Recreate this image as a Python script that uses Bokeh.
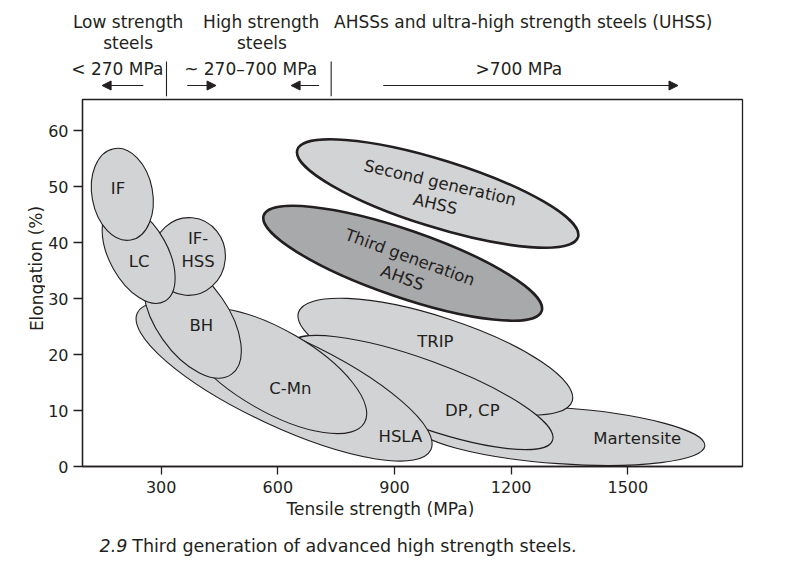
import numpy as np
from bokeh.plotting import figure
from bokeh.layouts import column, row
from bokeh.models import Range1d, FixedTicker, Arrow, NormalHead, ColumnDataSource
from bokeh.embed import file_html
from bokeh.resources import INLINE
from bokeh.core.properties import value

FONT = "DejaVu Sans"
INK = "#231f20"
FILL = "#d2d3d5"
FILL_DARK = "#a8a9ab"

# ---------------- data ----------------
# steel families, listed in drawing order (bottom to top)
steel_names = ["Martensite", "TRIP", "DP, CP", "HSLA", "C-Mn", "BH", "IF-HSS", "LC", "IF"]
steel_ts = [1326, 1005, 968, 616, 591, 380, 371, 242, 200]          # tensile strength centre (MPa)
steel_el = [5.5, 19.6, 13.2, 15.2, 17.1, 26.4, 37.5, 37.9, 48.6]    # elongation centre (%)
steel_ts_span = [746, 740, 720, 833, 535, 350, 188, 150, 156]       # spread along strength (MPa)
steel_el_span = [10.0, 14.3, 11.8, 16.1, 14.6, 12.9, 13.9, 19.2, 16.6]  # spread along elongation (%)
steel_tilt = [-4, -18, -20, -25, -30, -55, -5, 29, 10.6]            # degrees

steel_labels = ["Martensite", "TRIP", "DP, CP", "HSLA", "C-Mn", "BH", "IF-\nHSS", "LC", "IF"]
steel_label_ts = [1524, 1005, 1100, 915, 632, 403, 395, 243, 189]
steel_label_el = [5.0, 22.3, 10.0, 5.4, 13.9, 25.2, 38.6, 36.6, 49.6]

gen_labels = ["Second generation\nAHSS", "Third generation\nAHSS"]
gen_ts = [1011, 921]
gen_el = [48.75, 36.3]
gen_ts_span = [756, 756]
gen_el_span = [12.0, 12.0]
gen_tilt = [-17.3, -19.0]
gen_label_ts = [1011, 930]
gen_label_el = [48.75, 35.5]
gen_label_tilt = [-13, -20]

ts_ticks = [300, 600, 900, 1200, 1500]
el_ticks = [0, 10, 20, 30, 40, 50, 60]

# strength-class header
class_titles = ["Low strength", "steels", "High strength", "steels",
                "AHSSs and ultra-high strength steels (UHSS)"]
class_title_ts = [215, 215, 557, 559, 1231]
class_title_row = [0, 1, 0, 1, 0]
class_ranges = ["< 270 MPa", "~ 270\u2013700 MPa", ">700 MPa"]
class_range_ts = [187, 530, 1220]
class_bounds_ts = [313.6, 737.1]
class_arrows_ts = [(254, 148), (367, 441), (706, 634), (871, 1629)]

x_title = "Tensile strength (MPa)"
y_title = "Elongation (%)"
caption_number = "2.9"
caption_text = "Third generation of advanced high strength steels."

# ---------------- layout constants ----------------
YW = 45                      # strip holding the y-axis title
W = 770 - YW                 # width of the chart column
LEFT, RIGHT = 82 - YW, 28
TS_MIN, TS_MAX, EL_MAX = 97.6, 1794.9, 65.54
K = (W - LEFT - RIGHT) / (TS_MAX - TS_MIN)          # px per MPa
FULL_X = (TS_MIN - LEFT / K, TS_MAX + RIGHT / K)     # x range of full-width strips
HEAD_H, MAIN_H, FOOT_H = 97, 403, 63
TOTAL_H = HEAD_H + MAIN_H + FOOT_H


def no_align(f):
    try:
        f.frame_align = False
    except Exception:
        pass


def strip(width, height, xr):
    f = figure(width=width, height=height, x_range=Range1d(*xr), y_range=Range1d(0, height),
               x_axis_type=None, y_axis_type=None, output_backend="svg",
               toolbar_location=None, min_border=0)
    f.outline_line_color = None
    f.background_fill_color = "white"
    f.border_fill_color = "white"
    no_align(f)
    return f


# ---------------- header ----------------
head = strip(W, HEAD_H, FULL_X)
row_y = [75.8, 54.5]
hsrc = ColumnDataSource(dict(x=class_title_ts, y=[row_y[r] for r in class_title_row], t=class_titles))
head.text(x="x", y="y", text="t", source=hsrc, text_font=value(FONT), text_font_size="17px",
          text_align="center", text_baseline="middle", text_color=INK)
rsrc = ColumnDataSource(dict(x=class_range_ts, y=[28.8] * len(class_ranges), t=class_ranges))
head.text(x="x", y="y", text="t", source=rsrc, text_font=value(FONT), text_font_size="17px",
          text_align="center", text_baseline="middle", text_color=INK)
head.segment(x0=class_bounds_ts, y0=[1.3] * 2, x1=class_bounds_ts, y1=[36] * 2,
             line_color=INK, line_width=1.1)
for x0, x1 in class_arrows_ts:
    head.add_layout(Arrow(end=NormalHead(size=9, fill_color=INK, line_color=INK, line_width=1),
                          x_start=x0, y_start=12, x_end=x1, y_end=12,
                          line_color=INK, line_width=1.2))

# ---------------- main chart ----------------
p = figure(width=W, height=MAIN_H,
           x_range=Range1d(TS_MIN, TS_MAX), y_range=Range1d(0, EL_MAX),
           output_backend="svg", toolbar_location=None,
           min_border_left=LEFT, min_border_right=RIGHT, min_border_top=2, min_border_bottom=34)
no_align(p)
p.outline_line_color = INK
p.outline_line_width = 1.3
p.grid.visible = False
p.background_fill_color = "white"
p.border_fill_color = "white"

p.xaxis.ticker = FixedTicker(ticks=ts_ticks)
p.yaxis.ticker = FixedTicker(ticks=el_ticks)
for ax in (p.xaxis, p.yaxis):
    ax.axis_line_color = INK
    ax.axis_line_width = 1.3
    ax.major_tick_line_color = INK
    ax.major_tick_line_width = 1.3
    ax.major_tick_in = 0
    ax.minor_tick_line_color = None
    ax.major_label_text_font = FONT
    ax.major_label_text_font_size = "16px"
    ax.major_label_text_color = INK
p.xaxis.major_tick_out = 8
p.yaxis.major_tick_out = 9
p.xaxis.major_label_standoff = 6
p.yaxis.major_label_standoff = 5

src = ColumnDataSource(dict(ts=steel_ts, el=steel_el, w=steel_ts_span, h=steel_el_span,
                            tilt=steel_tilt, name=steel_names))
p.ellipse(x="ts", y="el", width="w", height="h", angle="tilt", angle_units="deg",
          source=src, fill_color=FILL, line_color=INK, line_width=1.1)

gsrc = ColumnDataSource(dict(ts=gen_ts, el=gen_el, w=gen_ts_span, h=gen_el_span,
                             tilt=gen_tilt, fill=[FILL, FILL_DARK]))
p.ellipse(x="ts", y="el", width="w", height="h", angle="tilt", angle_units="deg",
          source=gsrc, fill_color="fill", line_color=INK, line_width=2.6)

lsrc = ColumnDataSource(dict(ts=steel_label_ts, el=steel_label_el, txt=steel_labels))
p.text(x="ts", y="el", text="txt", source=lsrc, text_font=value(FONT),
       text_font_size="16.5px", text_align="center", text_baseline="middle",
       text_color=INK, text_line_height=1.2)

glsrc = ColumnDataSource(dict(ts=gen_label_ts, el=gen_label_el, txt=gen_labels, ang=gen_label_tilt))
p.text(x="ts", y="el", text="txt", angle="ang", angle_units="deg", source=glsrc,
       text_font=value(FONT), text_font_size="16.5px", text_align="center",
       text_baseline="middle", text_color=INK, text_line_height=1.15)

# ---------------- footer: x-axis title and caption ----------------
foot = strip(W, FOOT_H, FULL_X)
foot.text(x=[863.9], y=[54.6], text=[x_title], text_font=value(FONT),
          text_font_size="17px", text_align="center", text_baseline="middle", text_color=INK)
foot.text(x=[141.3], y=[17.8], text=[caption_number], text_font=value(FONT),
          text_font_style="italic", text_font_size="17.5px", text_align="left",
          text_baseline="middle", text_color=INK)
foot.text(x=[225.4], y=[17.8], text=[caption_text], text_font=value(FONT),
          text_font_size="17.5px", text_align="left", text_baseline="middle", text_color=INK)

# ---------------- y-axis title strip ----------------
ystrip = strip(YW, TOTAL_H, (0, YW))
ystrip.text(x=[36], y=[TOTAL_H - 268], text=[y_title], angle=[np.pi / 2],
            text_font=value(FONT), text_font_size="17px", text_align="center",
            text_baseline="middle", text_color=INK)

layout = row(ystrip, column(head, p, foot, spacing=0), spacing=0)
open("out.html", "w").write(file_html(layout, INLINE, title="Third generation AHSS"))
